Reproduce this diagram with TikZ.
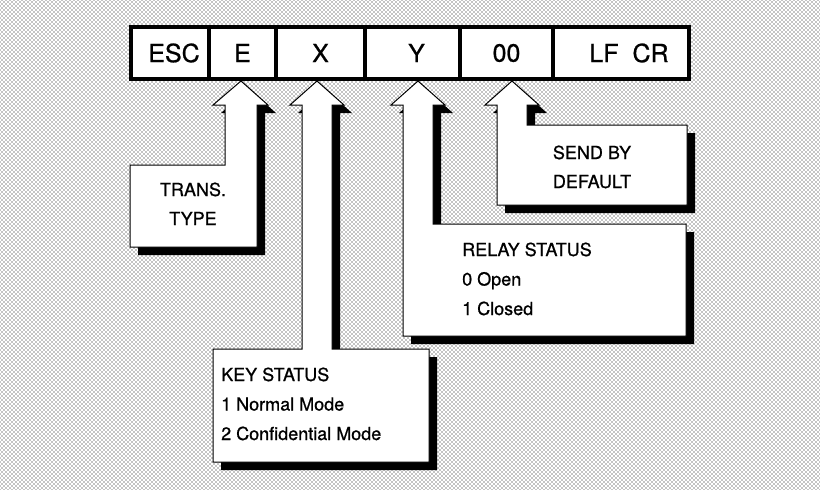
\documentclass[tikz,border=0pt]{standalone}
\usepackage{fontspec}
\setmainfont{TeX Gyre Heros}[FakeBold=0.8]
\usetikzlibrary{positioning,patterns}
\pgfdeclarepatternformonly{stipple}{\pgfqpoint{-1pt}{-1pt}}{\pgfqpoint{3pt}{3pt}}{\pgfqpoint{4pt}{4pt}}%
{
  \pgfpathcircle{\pgfqpoint{0pt}{0pt}}{.72pt}
  \pgfpathcircle{\pgfqpoint{2pt}{2pt}}{.72pt}
  \pgfusepath{fill}
}
\tikzset{
  cell/.style={draw, line width=3.4pt, fill=white, minimum height=52pt, inner sep=0pt,
               outer sep=0pt, font=\fontsize{25}{30}\selectfont},
  callout/.style={draw=black, line width=1pt, fill=white, line join=miter},
  shade/.style={fill=black, shift={(8,8)}},
  note/.style={anchor=base west, inner sep=0pt, font=\fontsize{18}{22}\selectfont},
  cnote/.style={note, anchor=base},
}

\begin{document}
\begin{tikzpicture}[x=1pt, y=-1pt]
    % page: 820 x 490, y counted downwards
    \useasboundingbox (0,0) rectangle (820,490);
    \fill[pattern=stipple, pattern color=black] (0,0) rectangle (820,490);

    % command string
    \node[cell, minimum width=78pt, anchor=north west] (esc) at (131,27) {\hspace{8pt}ESC};
    \node[cell, minimum width=67pt, right=0pt of esc] (e) {E};
    \node[cell, minimum width=89pt, right=0pt of e] (x) {X};
    \node[cell, minimum width=95pt, right=0pt of x] (y) {\hspace{8pt}Y};
    \node[cell, minimum width=93pt, right=0pt of y] (zero) {00};
    \node[cell, minimum width=136pt, right=0pt of zero] (lfcr) {\hspace{16pt}LF\ \ CR};

    % transmission type (E)
    \fill[shade] (241,81) -- (268,105) -- (257,105) -- (257,247) -- (130,247) -- (130,165)
      -- (225,165) -- (225,105) -- (213,105) -- cycle;
    \draw[callout] (241,81) -- (268,105) -- (257,105) -- (257,247) -- (130,247) -- (130,165)
      -- (225,165) -- (225,105) -- (213,105) -- cycle;
    \foreach \t [count=\i] in {TRANS., TYPE}
      \node[cnote] (trans\i) at (193,196+29*\i-29) {\t};

    % key status (X)
    \fill[shade] (317,81) -- (344,105) -- (332,105) -- (332,349) -- (429,349) -- (429,462)
      -- (213,462) -- (213,349) -- (302,349) -- (302,105) -- (290,105) -- cycle;
    \draw[callout] (317,81) -- (344,105) -- (332,105) -- (332,349) -- (429,349) -- (429,462)
      -- (213,462) -- (213,349) -- (302,349) -- (302,105) -- (290,105) -- cycle;
    \foreach \t [count=\i] in {KEY STATUS, 1 Normal Mode, 2 Confidential Mode}
      \node[note] (key\i) at (221,381+29.5*\i-29.5) {\t};

    % relay status (Y)
    \fill[shade] (418,81) -- (445,105) -- (433,105) -- (433,224) -- (686,224) -- (686,336)
      -- (403,336) -- (403,105) -- (391,105) -- cycle;
    \draw[callout] (418,81) -- (445,105) -- (433,105) -- (433,224) -- (686,224) -- (686,336)
      -- (403,336) -- (403,105) -- (391,105) -- cycle;
    \foreach \t [count=\i] in {RELAY STATUS, 0 Open, 1 Closed}
      \node[note] (relay\i) at (462,256+29.5*\i-29.5) {\t};

    % default (00)
    \fill[shade] (512,81) -- (539,105) -- (527,105) -- (527,125) -- (687,125) -- (687,205)
      -- (497,205) -- (497,105) -- (485,105) -- cycle;
    \draw[callout] (512,81) -- (539,105) -- (527,105) -- (527,125) -- (687,125) -- (687,205)
      -- (497,205) -- (497,105) -- (485,105) -- cycle;
    \foreach \t [count=\i] in {SEND BY, DEFAULT}
      \node[cnote] (send\i) at (592,159+29*\i-29) {\t};
\end{tikzpicture}
\end{document}
